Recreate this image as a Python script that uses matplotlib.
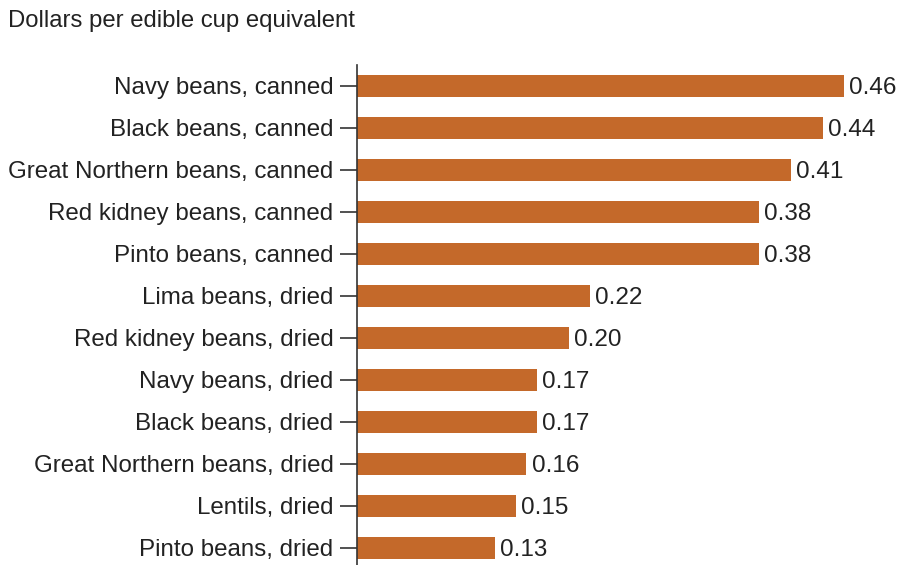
import matplotlib
matplotlib.use("Agg")
import matplotlib.pyplot as plt

categories = [
    "Navy beans, canned",
    "Black beans, canned",
    "Great Northern beans, canned",
    "Red kidney beans, canned",
    "Pinto beans, canned",
    "Lima beans, dried",
    "Red kidney beans, dried",
    "Navy beans, dried",
    "Black beans, dried",
    "Great Northern beans, dried",
    "Lentils, dried",
    "Pinto beans, dried",
]
values = [0.46, 0.44, 0.41, 0.38, 0.38, 0.22, 0.20, 0.17, 0.17, 0.16, 0.15, 0.13]
value_labels = ["0.46", "0.44", "0.41", "0.38", "0.38", "0.22", "0.20",
                "0.17", "0.17", "0.16", "0.15", "0.13"]

plt.rcParams['font.family'] = ['Liberation Sans', 'DejaVu Sans']

fig = plt.figure(figsize=(9, 5.65), dpi=100)
ax = fig.add_axes([357 / 900, 0, 529 / 900, 500 / 565])

n = len(categories)
ypos = [n - 1 - i for i in range(n)]
ax.barh(ypos, values, height=0.53, color="#C4692A")

for y, v, lab in zip(ypos, values, value_labels):
    ax.text(v + 0.005, y - 0.05, lab, va="center", ha="left", fontsize=17.5, color="#222222")

ax.set_yticks(ypos)
ax.set_yticklabels(categories, fontsize=17.4, color="#222222")
ax.tick_params(axis="y", length=12, width=1.2, color="#333333", pad=5)
ax.set_xticks([])
ax.set_xlim(0, 0.5)
ax.set_ylim(-0.405, n - 0.5)

for s in ["top", "right", "bottom"]:
    ax.spines[s].set_visible(False)
ax.spines["left"].set_color("#333333")
ax.spines["left"].set_linewidth(1.2)

fig.text(8 / 900, 1 - 21 / 565, "Dollars per edible cup equivalent",
         fontsize=17.2, color="#222222", va="center", ha="left")

fig.savefig("out.png", dpi=100)
